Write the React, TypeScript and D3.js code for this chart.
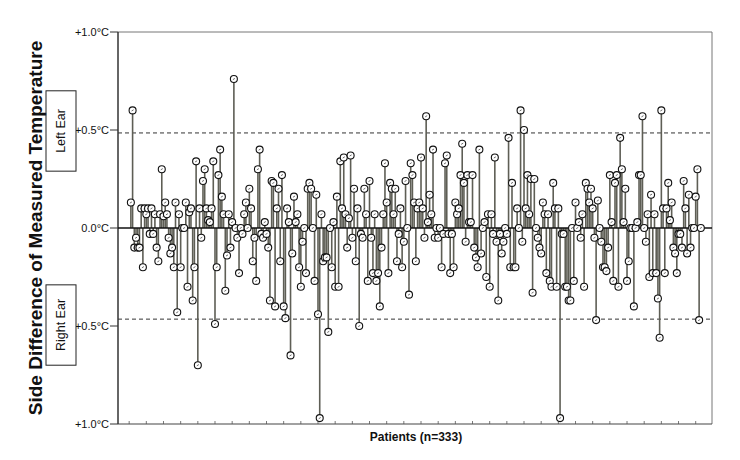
import React from 'react';
import * as d3 from 'd3';

// Side difference (Left ear positive, Right ear negative), °C, patients in order
const seg1 = [0.13, 0.60, -0.10, -0.05, -0.10, -0.10, 0.10, -0.20, 0.10, 0.07, 0.10, -0.03, 0.10, -0.03, 0.07, -0.10, -0.17, 0.07, 0.30, 0.06, 0.13, 0.07, -0.05, -0.13, -0.10, -0.20, 0.13, -0.43];
const seg2 = [0.07, -0.20, 0.0, 0.0, 0.13, -0.30, 0.08, 0.10, -0.37, -0.20, 0.34, -0.70, 0.10, -0.05, 0.24, 0.30, 0.10, 0.04, 0.03, 0.10, 0.34, -0.49, -0.20, 0.27, 0.40, 0.16, 0.07, -0.32, -0.14, 0.07, -0.10, 0.03, 0.76];
const seg3 = [0.0, -0.05, -0.23, 0.0, -0.03, 0.07, 0.13, 0.0, 0.20, 0.10, -0.17, -0.05, -0.27, 0.30, 0.40, -0.03, -0.05, 0.03, -0.03, -0.10, -0.37, 0.24, 0.23, -0.40, 0.10, 0.20, -0.17, 0.27, -0.40, -0.46, 0.10, 0.03, -0.65, -0.13, 0.16];
const seg4 = [0.03, 0.07, -0.20, -0.30, -0.07, 0.0, -0.23, 0.20, 0.23, 0.20, 0.0, -0.27, 0.17, -0.44, -0.97, 0.07, -0.17, -0.15, -0.15, -0.53, 0.0, -0.20, 0.03, -0.30, 0.16, -0.30, 0.34, 0.10, 0.36, 0.07, -0.10, 0.05, 0.37, -0.05, 0.20];
const seg5 = [-0.17, 0.10, -0.50, -0.03, -0.05, 0.20, 0.07, -0.27, 0.24, -0.05, -0.23, 0.07, -0.27, -0.23, -0.40, -0.10, 0.07, 0.33, 0.13, -0.23, 0.23, 0.20, 0.07, 0.20, -0.17, -0.03, 0.10, -0.20, -0.07, 0.24, 0.0, -0.34, 0.33, 0.27, 0.13];
const seg6 = [-0.17, 0.10, 0.13, 0.36, 0.10, -0.05, 0.57, 0.03, 0.17, 0.07, 0.40, -0.05, 0.0, -0.05, 0.0, -0.20, -0.03, 0.33, 0.37, -0.03, -0.23, -0.03, -0.20, 0.13, 0.07, 0.10, 0.27, 0.43, 0.23, -0.07, 0.27, 0.03, 0.03, 0.27];
const seg7 = [-0.10, -0.15, -0.20, 0.40, -0.13, 0.0, 0.03, -0.25, 0.07, -0.30, 0.07, -0.03, 0.36, -0.07, -0.37, -0.03, -0.13, -0.07, 0.0, -0.03, 0.46, -0.20, 0.23, -0.20, -0.20, 0.10, 0.0, 0.60, -0.07, 0.50, 0.10, 0.27, 0.07, 0.25, -0.33];
const seg8 = [0.25, 0.0, -0.05, -0.10, -0.13, 0.13, 0.07, -0.23, 0.07, -0.27, -0.30, 0.23, 0.10, -0.30, 0.10, -0.97, -0.03, -0.03, -0.30, -0.30, -0.37, -0.37, 0.0, -0.27, 0.13, 0.0, 0.03, -0.05, 0.07, -0.30, 0.23, 0.20, 0.13, 0.20, 0.10, -0.05];
const seg9 = [-0.47, 0.14, 0.0, -0.07, -0.20, -0.20, -0.22, -0.10, 0.27, 0.03, -0.27, 0.23, 0.27, -0.30, 0.46, 0.30, 0.03, 0.20, -0.27, -0.17, 0.0, 0.0, -0.40, 0.0, 0.03, 0.27, 0.27, 0.57, 0.0, -0.07, 0.07, -0.25, 0.17, -0.23, 0.07, -0.23];
const seg10 = [-0.36, -0.56, 0.60, 0.10, -0.23, 0.10, 0.23, 0.04, 0.13, -0.10, -0.13, -0.23, -0.03, -0.03, -0.10, 0.24, 0.10, -0.13, 0.17, -0.10, 0.0, 0.0, 0.16, 0.30, -0.47, 0.0];

const diffs = [...seg1, ...seg2, ...seg3, ...seg4, ...seg5, ...seg6, ...seg7, ...seg8, ...seg9, ...seg10];

const yTickValues = [1, 0.5, 0, -0.5, -1];
const yTickLabels = ['+1.0°C', '+0.5°C', '0.0°C', '+0.5°C', '+1.0°C'];
const limitLines = [0.485, -0.465];
const xTickValues = d3.range(0, 340, 10);
const sideLabels = [
  { text: 'Left Ear', from: 0.70, to: 0.29 },
  { text: 'Right Ear', from: -0.29, to: -0.70 },
];

const FONT = '"Liberation Sans", Arial, Helvetica, sans-serif';

export default function App() {
  const x = d3.scaleLinear().domain([-6.5, 339.5]).range([118, 712]);
  const y = d3.scaleLinear().domain([-1, 1]).range([424, 32]);
  const y0 = y(0);
  const [xl, xr] = x.range();
  const [yb, yt] = y.range();

  return (
    <svg width={740} height={460} style={{ position: 'absolute', left: 0, top: 0, background: '#fff' }}
      fontFamily={FONT}>
      <rect x={0} y={0} width={740} height={460} fill="#fff" />
      {/* frame */}
      <line x1={xl} x2={xr} y1={yt} y2={yt} stroke="#777" strokeWidth={1} />
      <line x1={xr} x2={xr} y1={yt} y2={yb} stroke="#777" strokeWidth={1} />
      <line x1={xl} x2={xr} y1={yb} y2={yb} stroke="#444" strokeWidth={1.2} />
      <line x1={xl} x2={xl} y1={yt} y2={yb} stroke="#333" strokeWidth={1.5} />

      {/* x ticks (inward) */}
      {xTickValues.map((t) => (
        <line key={'xt' + t} x1={x(t)} x2={x(t)} y1={yb} y2={yb - 3} stroke="#555" strokeWidth={0.8} />
      ))}

      {/* y ticks and labels */}
      {yTickValues.map((v, i) => (
        <g key={'yt' + i}>
          <line x1={xl - 8} x2={xl} y1={y(v)} y2={y(v)} stroke="#333" strokeWidth={1} />
          <text x={xl - 9} y={y(v)} dy="0.35em" textAnchor="end" fontSize={11} fill="#111">{yTickLabels[i]}</text>
        </g>
      ))}

      {/* dashed limit lines */}
      {limitLines.map((v, i) => (
        <line key={'ll' + i} x1={xl} x2={xr} y1={y(v)} y2={y(v)} stroke="#333" strokeWidth={1} strokeDasharray="4,3" />
      ))}

      {/* stems */}
      {diffs.map((d, i) => (
        <line key={'s' + i} x1={x(i + 1)} x2={x(i + 1)} y1={y0} y2={y(d)} stroke="#5e5e55" strokeWidth={1.6} />
      ))}

      {/* zero line */}
      <line x1={xl} x2={xr} y1={y0} y2={y0} stroke="#111" strokeWidth={1.6} />

      {/* markers */}
      {diffs.map((d, i) => (
        <g key={'m' + i}>
          <circle cx={x(i + 1)} cy={y(d)} r={3.5} fill="#fff" stroke="#111" strokeWidth={1.1} />
          <line x1={x(i + 1) - 1} x2={x(i + 1) + 1} y1={y(d) + 0.6} y2={y(d) - 0.6} stroke="#444" strokeWidth={0.8} />
        </g>
      ))}

      {/* side labels */}
      {sideLabels.map((s, i) => {
        const top = y(s.from);
        const bot = y(s.to);
        const cx = 61;
        const cy = (top + bot) / 2;
        return (
          <g key={'sl' + i}>
            <rect x={46} y={top} width={30} height={bot - top} fill="#fff" stroke="#222" strokeWidth={1} />
            <text transform={`translate(${cx},${cy}) rotate(-90)`} dy="0.35em" textAnchor="middle" fontSize={12.5} fill="#111">{s.text}</text>
          </g>
        );
      })}

      {/* axis titles */}
      <text transform={`translate(35,${y0}) rotate(-90)`} dy="0.35em" textAnchor="middle" fontSize={19} fontWeight="bold" fill="#111">
        Side  Difference of Measured Temperature
      </text>
      <text x={(xl + xr) / 2 + 1} y={441} textAnchor="middle" fontSize={12} fontWeight="bold" fill="#111">Patients (n=333)</text>
    </svg>
  );
}
